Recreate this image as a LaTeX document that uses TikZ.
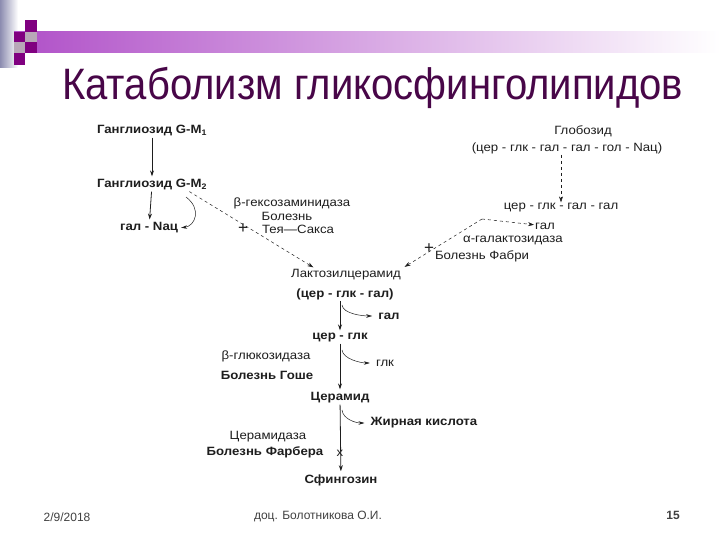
\documentclass[tikz,border=0pt]{standalone}
\usepackage{fontspec}
\setmainfont{Liberation Sans}
\newfontfamily\diafont{Liberation Sans}[FakeStretch=1.1]
\newfontfamily\titlefont{Liberation Sans}[FakeStretch=0.91]
\usetikzlibrary{arrows.meta}
\definecolor{titlepurple}{RGB}{72,6,72}
\definecolor{sqpurple}{RGB}{128,0,128}
\definecolor{sqgrey}{RGB}{184,168,184}
\definecolor{barpurple}{RGB}{176,80,200}
\definecolor{barblue}{RGB}{140,140,176}
\definecolor{inkgrey}{RGB}{30,30,30}

\begin{document}
\begin{tikzpicture}[x=1pt,y=-1pt,
  every node/.style={inner sep=1pt, text=inkgrey, font=\diafont\fontsize{12}{14}\selectfont\bfseries},
  lite/.style={font=\diafont\fontsize{12}{14}\selectfont},
  foot/.style={font=\fontsize{12}{14}\selectfont, text=black!75},
  crossmark/.style={font=\fontsize{17}{17}\selectfont, inner sep=0pt},
  arr/.style={-{Stealth[length=6pt,width=4pt]}, line width=0.8pt, draw=inkgrey, shorten >=2pt},
  dasharr/.style={-{Stealth[length=6pt,width=4pt]}, dashed, line width=0.5pt, draw=inkgrey},
  sidearr/.style={-{Stealth[length=6pt,width=3.5pt]}, line width=0.5pt, draw=inkgrey, shorten >=5pt}]
\useasboundingbox (0,0) rectangle (720,540);
\fill [white] (0,0) rectangle (720,540);

\shade [left color=barblue, right color=white] (0,0) rectangle (18,68);
\shade [left color=barpurple, right color=white] (14,32) rectangle (720,53);
\fill [sqpurple] (25,20) rectangle (37,32);
\fill [sqpurple] (14,32) rectangle (25,42);
\fill [sqgrey] (25,32) rectangle (37,42);
\fill [sqgrey] (14,42) rectangle (25,53);
\fill [sqpurple] (25,42) rectangle (37,53);
\fill [sqpurple] (14,53) rectangle (25,65);

\node [anchor=base west, inner sep=0pt, text=titlepurple, font=\titlefont\fontsize{44}{52}\selectfont] (title) at (62,100) {Катаболизм гликосфинголипидов};

\node (gm1) at (152,131) {Ганглиозид G-M\textsubscript{1}};
\node (gm2) at (152,185) {Ганглиозид G-M\textsubscript{2}};
\node (galnac) at (149,228) {гал - Nац};
\node [lite] (hexa) at (292,203) {β-гексозаминидаза};
\node [lite] (tay1) at (287,216) {Болезнь};
\node [lite] (tay2) at (298,229) {Тея—Сакса};
\node [crossmark] (x1) at (243,229) {+};
\coordinate (hexb) at (186,197);

\node [lite] (glob) at (583,131) {Глобозид};
\node [lite] (globf) at (567,148) {(цер - глк - гал - гал - гол - Nац)};
\node [lite] (cer4) at (561,208) {цер - глк - гал - гал};
\coordinate (fab) at (482,219);
\node [lite] (gal2) at (545,226) {гал};
\node [lite] (agal) at (513,240) {α-галактозидаза};
\node [lite] (fabry) at (482,256) {Болезнь Фабри};
\node [crossmark] (x2) at (429,249) {+};

\node [lite] (lcer) at (346,275) {Лактозилцерамид};
\node (lcerf) at (345,294) {(цер - глк - гал)};
\node (cerglk) at (340,338) {цер - глк};
\node [lite] (bglu) at (266,356) {β-глюкозидаза};
\node (gaucher) at (267,375) {Болезнь Гоше};
\node (ceramide) at (340,398) {Церамид};
\node [lite] (cerase) at (268,437) {Церамидаза};
\node (farber) at (265,452) {Болезнь Фарбера};
\node (sphing) at (341,480) {Сфингозин};
\node (gal1) at (389,316) {гал};
\node [lite] (glk) at (385,363) {глк};
\node (fatty) at (424,423) {Жирная кислота};
\node [lite, inner sep=0pt] (x3) at (340,453) {x};
\coordinate (b1) at (342,305);
\coordinate (b2) at (342,350);
\coordinate (b3) at (342,410);

\node [foot] (date) at (67,517) {2/9/2018};
\node [foot] (author) at (318,517) {доц. Болотникова О.И.};
\node [foot, font=\fontsize{12}{14}\selectfont\bfseries] (page) at (673,515) {15};

\draw [arr] (gm1) -- (gm2);
\draw [arr] (gm2) -- (galnac);
\draw [dasharr, shorten >=2pt] (gm2.-10) -- (lcer.168);
\draw [sidearr, shorten >=2pt] (hexb) .. controls +(16,12) and +(16,-2) .. (galnac.east);
\draw [dasharr] (cer4.north |- globf.south) -- (cer4.north);
\draw [dasharr] (fab) -- (gal2);
\draw [dasharr, shorten >=3pt] (fab) -- (lcer.north east);
\draw [arr] (lcerf.south -| cerglk) -- (cerglk);
\draw [arr] (cerglk) -- (ceramide);
\draw [arr] (ceramide) -- (sphing);
\draw [sidearr] (b1) .. controls +(1,9) and +(-14,0) .. (gal1.west);
\draw [sidearr] (b2) .. controls +(1,9) and +(-14,0) .. (glk.west);
\draw [sidearr] (b3) .. controls +(1,9) and +(-14,0) .. (fatty.west);
\end{tikzpicture}
\end{document}
